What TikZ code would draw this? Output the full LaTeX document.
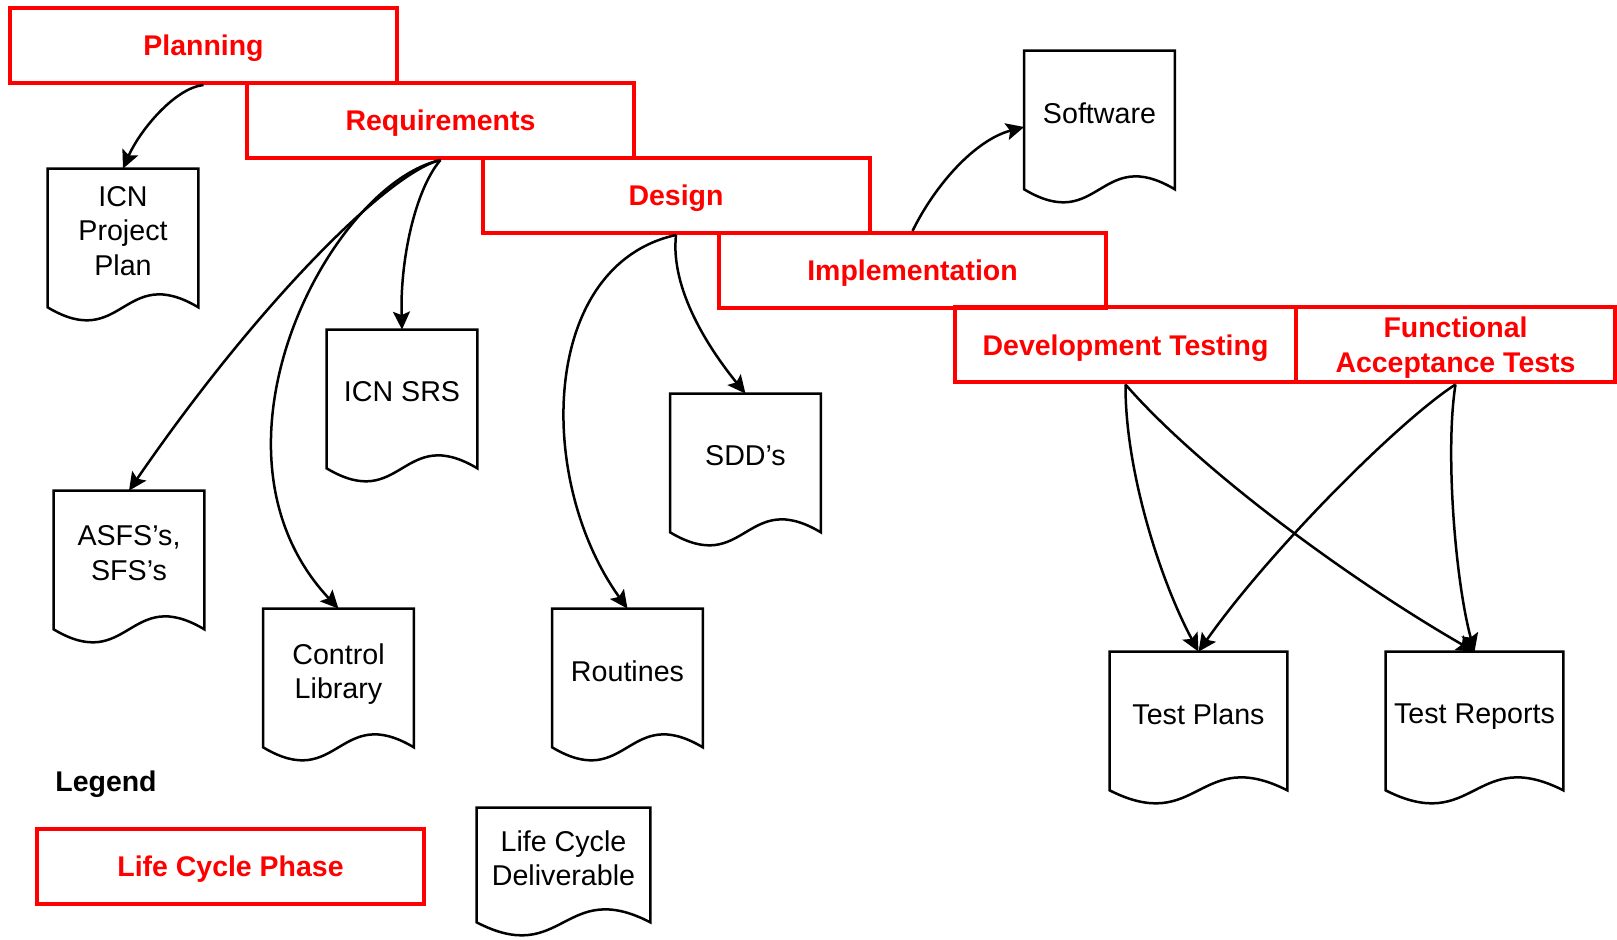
\documentclass[tikz,border=0pt]{standalone}
\usepackage{fontspec}
\setmainfont{Liberation Sans}
\usetikzlibrary{arrows.meta, calc}

\tikzset{
	phase/.style={draw=red, line width=0.8mm, text=red, minimum height=15mm, inner sep=0pt, align=center,
		text depth=0pt, font=\bfseries\fontsize{16.2}{19.8}\selectfont},
	deliv/.style={minimum width=30mm, minimum height=24.8mm, inner sep=0pt, align=center,
		text depth=0pt, font=\fontsize{16.3}{19.6}\selectfont},
	sheet/.style={line width=0.5mm},
	flow/.style={line width=0.5mm, -{Stealth[length=3.6mm, width=3.4mm, inset=0.7mm]}},
}

\begin{document}
\begin{tikzpicture}[x=0.2mm, y=-0.2mm]
	\useasboundingbox (0, 0) rectangle (1617, 940);
	% life cycle phases, stepping down to the right
	\node (plan) at (203.5, 45.5)	[phase, minimum width=77.4mm]	{Planning};
	\node (req) at (440.5, 120.5)	[phase, minimum width=77.4mm]	{Requirements};
	\node (des) at (676, 195.5)		[phase, minimum width=77.4mm]	{Design};
	\node (impl) at (912.5, 270.5)	[phase, minimum width=77.4mm]	{Implementation};
	\node (dev) at (1125.5, 345)	[phase, minimum width=68.2mm]	{Development Testing};
	\node (fat) at (1455.5, 345)	[phase, minimum width=63.8mm]	{Functional\\Acceptance Tests};
	% deliverables
	\node (pplan) at (123, 231)		[deliv]	{ICN\\Project\\Plan};
	\node (srs) at (402, 392)		[deliv]	{ICN SRS};
	\node (asfs) at (129, 553)		[deliv]	{ASFS’s,\\SFS’s};
	\node (ctrl) at (338.5, 671)	[deliv]	{Control\\Library};
	\node (rout) at (627.5, 671)	[deliv]	{Routines};
	\node (sdd) at (745.5, 456)		[deliv]	{SDD’s};
	\node (soft) at (1099.5, 113)	[deliv]	{Software};
	\node (tplan) at (1198.5, 714)	[deliv, minimum width=35.4mm]	{Test Plans};
	\node (trep) at (1474.5, 714)	[deliv, minimum width=35.4mm]	{Test Reports};
	% legend
	\node (legend) at (106, 784)	[font=\bfseries\fontsize{16.2}{19.8}\selectfont]	{Legend};
	\node (lphase) at (230.5, 866.5)	[phase, minimum width=77.4mm]	{Life Cycle Phase};
	\node (ldeliv) at (563.5, 858)	[deliv, minimum width=34.6mm, minimum height=20mm]	{Life Cycle\\Deliverable};
	% document outline: flat top, wavy bottom
	\foreach \d in {pplan, srs, asfs, ctrl, rout, sdd, soft, tplan, trep, ldeliv}
		\draw[sheet] ($(\d.south west)+(0,14)$) -- (\d.north west) -- (\d.north east) -- ($(\d.south east)+(0,14)$)
			.. controls ($(\d.south)+(0,-31)$) and ($(\d.south)+(0,59)$) .. cycle;
	% phase -> deliverable
	\draw[flow] (plan.south) .. controls (175, 88) and (140, 130) .. (pplan.north);
	\draw[flow] (req.south) .. controls (415, 190) and (400, 260) .. (srs.north);
	\draw[flow] (req.south) .. controls (390, 172) and (260, 300) .. (asfs.north);
	\draw[flow] (req.south) .. controls (330, 185) and (190, 450) .. (ctrl.north);
	\draw[flow] (des.south) .. controls (670, 290) and (710, 350) .. (sdd.north);
	\draw[flow] (des.south) .. controls (540, 265) and (535, 480) .. (rout.north);
	\draw[flow] (impl.north) .. controls (935, 185) and (975, 140) .. ([yshift=-2.8mm]soft.west);
	\draw[flow] (dev.south) .. controls (1125, 470) and (1160, 580) .. (tplan.north);
	\draw[flow] (dev.south) .. controls (1200, 470) and (1350, 580) .. (trep.north);
	\draw[flow] (fat.south) .. controls (1400, 420) and (1270, 550) .. (tplan.north);
	\draw[flow] (fat.south) .. controls (1445, 450) and (1455, 580) .. (trep.north);
\end{tikzpicture}
\end{document}
